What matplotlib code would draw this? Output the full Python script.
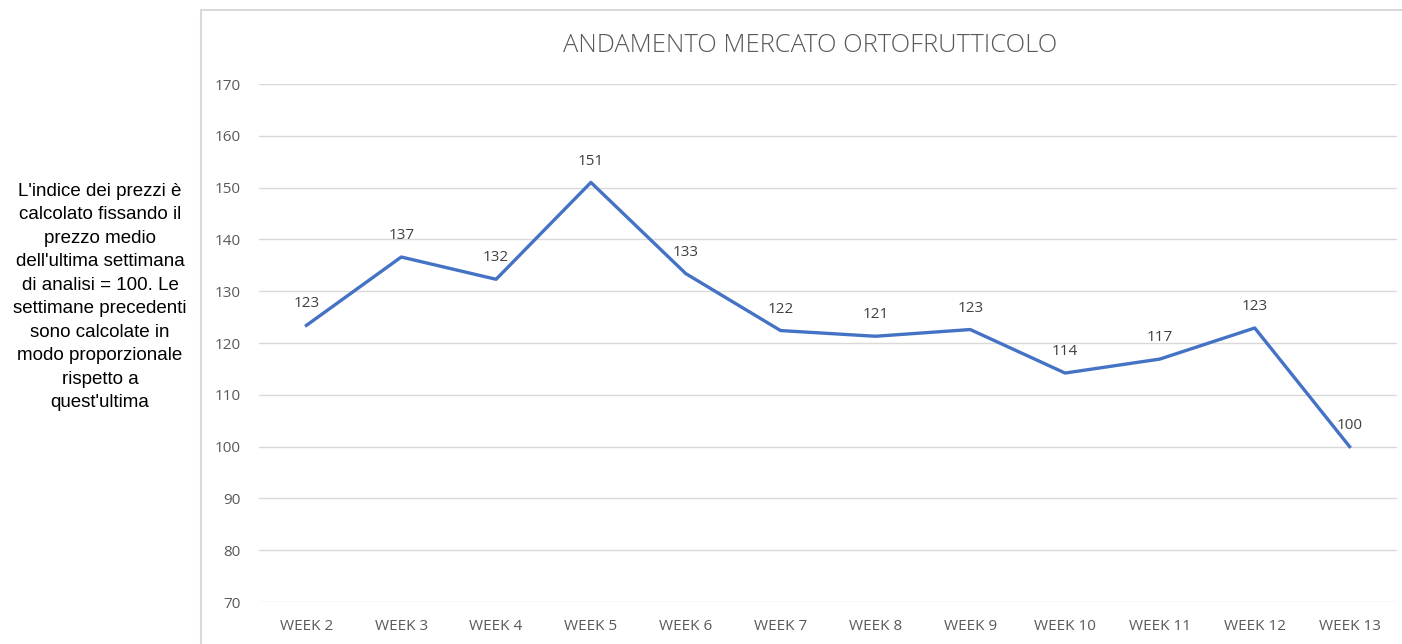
import matplotlib.pyplot as plt
from matplotlib.patches import Rectangle

weeks = ["WEEK 2", "WEEK 3", "WEEK 4", "WEEK 5", "WEEK 6", "WEEK 7",
         "WEEK 8", "WEEK 9", "WEEK 10", "WEEK 11", "WEEK 12", "WEEK 13"]
index_values = [123.4, 136.6, 132.3, 151.0, 133.4, 122.4,
                121.3, 122.6, 114.2, 116.9, 122.9, 100.0]
value_labels = ["123", "137", "132", "151", "133", "122",
                "121", "123", "114", "117", "123", "100"]
y_ticks = [70, 80, 90, 100, 110, 120, 130, 140, 150, 160, 170]

note = ("L'indice dei prezzi è\ncalcolato fissando il\nprezzo medio\n"
        "dell'ultima settimana\ndi analisi = 100. Le\nsettimane precedenti\n"
        "sono calcolate in\nmodo proporzionale\nrispetto a\nquest'ultima")

txt = "#595959"
plt.rcParams['font.family'] = ['Open Sans', 'DejaVu Sans']

fig = plt.figure(figsize=(14.02, 6.44), dpi=100)
ax = fig.add_axes([259/1402, 1 - 602/644, (1397 - 259)/1402, (602 - 84)/644])

# chart frame
fig.patches.append(Rectangle((201/1402, -0.1), 1.0, 1 - 10/644 + 0.1,
                             transform=fig.transFigure, fill=False,
                             edgecolor="#d9d9d9", linewidth=1.5))

x = list(range(len(weeks)))
ax.plot(x, index_values, color="#4472C4", linewidth=2.4, solid_joinstyle="round")
for xi, v, lab in zip(x, index_values, value_labels):
    ax.annotate(lab, (xi, v), xytext=(0, 10), textcoords="offset points",
                ha="center", va="bottom", fontsize=11, color="#404040")

ax.set_xlim(-0.5, len(weeks) - 0.5)
ax.set_ylim(70, 170)
ax.set_yticks(y_ticks)
ax.set_xticks(x)
ax.set_xticklabels(weeks)
ax.grid(axis="y", color="#d9d9d9", linewidth=1)
ax.set_axisbelow(True)
for s in ax.spines.values():
    s.set_visible(False)
ax.tick_params(length=0, labelsize=11, labelcolor=txt)
ax.tick_params(axis="y", pad=13)
ax.tick_params(axis="x", pad=12)

fig.text(810/1402, 1 - 45/644, "ANDAMENTO MERCATO ORTOFRUTTICOLO",
         ha="center", va="center", fontsize=18.4, color=txt, fontweight="light")

fig.text(100/1402, 1 - 297/644, note, ha="center", va="center",
         fontsize=13.5, color="black", linespacing=1.5,
         family=["Liberation Sans", "DejaVu Sans"])

fig.savefig("out.png", dpi=100)
